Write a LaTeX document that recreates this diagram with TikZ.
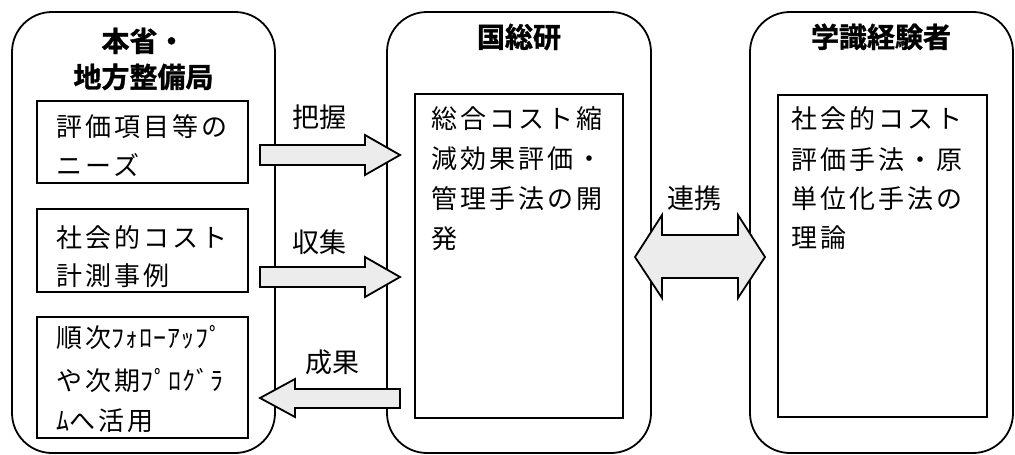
\documentclass[tikz,border=0pt]{standalone}
\usepackage{fontspec}
\setmainfont{Noto Sans CJK JP}
\newfontfamily\jp{Noto Sans CJK JP}
\newfontfamily\jpsp[LetterSpace=12]{Noto Sans CJK JP}
\newfontfamily\jphw[LetterSpace=4]{Noto Sans CJK JP}
\newfontfamily\jpbold[FakeBold=1.2]{Noto Sans CJK JP Bold}
\begin{document}
\begin{tikzpicture}[x=1pt,y=-1pt,
  panel/.style={draw,line width=1.8pt,rounded corners=40pt},
  inbox/.style={draw,line width=1.6pt},
  blockarrow/.style={draw,line width=1.8pt,fill=gray!15,line join=miter},
  body/.style={anchor=base west,inner sep=0pt,font=\fontsize{26}{26}\selectfont\jpsp},
  ttl/.style={anchor=base,inner sep=0pt,font=\fontsize{28}{28}\selectfont\jpbold},
  lbl/.style={anchor=base,inner sep=0pt,font=\fontsize{27}{27}\selectfont\jp}]
\useasboundingbox (0,0) rectangle (1015,455);
% panels
\draw[panel] (12,12) rectangle (275,453);
\draw[panel] (387,12) rectangle (651,453);
\draw[panel] (750,12) rectangle (1013,453);
% titles
\node[ttl] (t1a) at (143.5,51.5) {本省・};
\node[ttl] (t1b) at (143.5,87.5) {地方整備局};
\node[ttl] (t2) at (519,47.5) {国総研};
\node[ttl] (t3) at (881,47.5) {学識経験者};
% inner boxes
\draw[inbox] (37,101) rectangle (248,183);
\draw[inbox] (37,209) rectangle (248,292);
\draw[inbox] (37,317) rectangle (248,438);
\draw[inbox] (415,94) rectangle (623,418);
\draw[inbox] (778,95) rectangle (987,417);
% body texts
\node[body] (b1a) at (56,136) {評価項目等の};
\node[body] (b1b) at (56,175) {ニーズ};
\node[body] (b2a) at (56,247) {社会的コスト};
\node[body] (b2b) at (56,285) {計測事例};
\node[body] (b3a) at (56,347) {順次{\jphw ﾌｫﾛｰｱｯﾌﾟ}};
\node[body] (b3b) at (56,390) {や次期{\jphw ﾌﾟﾛｸﾞﾗ}};
\node[body] (b3c) at (56,430) {{\jphw ﾑ}へ活用};
\node[body] (m1) at (431,128) {総合コスト縮};
\node[body] (m2) at (431,168) {減効果評価・};
\node[body] (m3) at (431,208) {管理手法の開};
\node[body] (m4) at (431,248) {発};
\node[body] (r1) at (791,128) {社会的コスト};
\node[body] (r2) at (791,169) {評価手法・原};
\node[body] (r3) at (791,208) {単位化手法の};
\node[body] (r4) at (791,247) {理論};
% arrows
\draw[blockarrow] (260,145) -- (365,145) -- (365,135) -- (400,155) -- (365,175) -- (365,165) -- (260,165) -- cycle;
\draw[blockarrow] (260,267) -- (365,267) -- (365,257) -- (400,277) -- (365,297) -- (365,287) -- (260,287) -- cycle;
\draw[blockarrow] (400,389) -- (295,389) -- (295,379) -- (260,398) -- (295,417) -- (295,408) -- (400,408) -- cycle;
\draw[blockarrow] (635,257) -- (662,215) -- (662,235) -- (738,235) -- (738,215) -- (765,257) -- (738,298) -- (738,278) -- (662,278) -- (662,298) -- cycle;
% labels
\node[lbl] (l1) at (319,127) {把握};
\node[lbl] (l2) at (319,252) {収集};
\node[lbl] (l3) at (332,372) {成果};
\node[lbl] (l4) at (694,208) {連携};
\end{tikzpicture}
\end{document}
